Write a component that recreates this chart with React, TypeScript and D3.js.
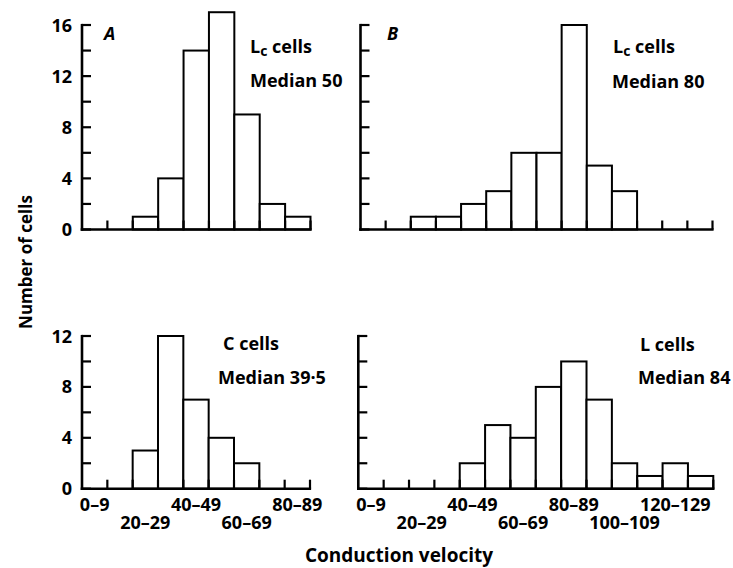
import React from "react";
import * as d3 from "d3";

// Counts per 10 m/s bin (bin i = i*10 .. i*10+9)
const countsA = [0, 0, 1, 4, 14, 17, 9, 2, 1];
const countsB = [0, 0, 1, 1, 2, 3, 6, 6, 16, 5, 3, 0, 0, 0];
const countsC = [0, 0, 3, 12, 7, 4, 2, 0, 0];
const countsD = [0, 0, 0, 0, 2, 5, 4, 8, 10, 7, 2, 1, 2, 1];

const yTicksTop = [0, 4, 8, 12, 16];
const yTicksBottom = [0, 4, 8, 12];
const xLabelsC = ["0–9", "20–29", "40–49", "60–69", "80–89"];
const xLabelBinsC = [0, 2, 4, 6, 8];
const xLabelsD = ["0–9", "20–29", "40–49", "60–69", "80–89", "100–109", "120–129"];
const xLabelBinsD = [0, 2, 4, 6, 8, 10, 12];

const FONT = "'Open Sans', Lato, sans-serif";

type PanelProps = {
  counts: number[];
  xRange: [number, number];
  yRange: [number, number];
  yMax: number;
  yLabels?: number[];
  xLabels?: string[];
  xLabelBins?: number[];
};

function Panel({ counts, xRange, yRange, yMax, yLabels, xLabels, xLabelBins }: PanelProps) {
  const n = counts.length;
  const x = d3.scaleLinear().domain([0, n * 10]).range(xRange);
  const y = d3.scaleLinear().domain([0, yMax]).range(yRange);
  const minorTicks = d3.range(0, yMax + 1, 2);
  const bounds = d3.range(1, n + 1);
  const lw = 2.6;
  return (
    <g>
      {counts.map((c, i) =>
        c > 0 ? (
          <rect
            key={"b" + i}
            x={x(i * 10)}
            y={y(c)}
            width={x((i + 1) * 10) - x(i * 10)}
            height={y(0) - y(c)}
            fill="white"
            stroke="black"
            strokeWidth={2}
          />
        ) : null
      )}
      {bounds.map((b) => (
        <line
          key={"xt" + b}
          x1={x(b * 10)}
          x2={x(b * 10)}
          y1={y(0)}
          y2={y(0) - 9}
          stroke="black"
          strokeWidth={2.2}
        />
      ))}
      <line x1={x(0) - 1.3} x2={x(n * 10) + 1.1} y1={y(0)} y2={y(0)} stroke="black" strokeWidth={lw} />
      <line x1={x(0)} x2={x(0)} y1={y(0) + 1.3} y2={y(yMax) - 1.1} stroke="black" strokeWidth={lw} />
      {minorTicks.map((t) => (
        <line key={"yt" + t} x1={x(0)} x2={x(0) + 9} y1={y(t)} y2={y(t)} stroke="black" strokeWidth={2.2} />
      ))}
      {yLabels &&
        yLabels.map((t) => (
          <text
            key={"yl" + t}
            x={x(0) - 10}
            y={y(t) + 6.5}
            textAnchor="end"
            fontFamily={FONT}
            fontWeight="bold"
            fontSize={18}
          >
            {t}
          </text>
        ))}
      {xLabels &&
        xLabelBins &&
        xLabels.map((l, i) => {
          const b = xLabelBins[i];
          const row = (b / 2) % 2;
          return (
            <text
              key={"xl" + i}
              x={x(b * 10 + 5)}
              y={y(0) + (row === 0 ? 22 : 40)}
              textAnchor="middle"
              fontFamily={FONT}
              fontWeight="bold"
              fontSize={18}
            >
              {l}
            </text>
          );
        })}
    </g>
  );
}

function Label({ x, y, children }: { x: number; y: number; children: React.ReactNode }) {
  return (
    <text x={x} y={y} fontFamily={FONT} fontWeight="bold" fontSize={18}>
      {children}
    </text>
  );
}

export default function App() {
  return (
    <svg
      width={733}
      height={568}
      style={{ position: "absolute", left: 0, top: 0, background: "white" }}
    >
      <rect x={0} y={0} width={733} height={568} fill="white" />
      <Panel counts={countsA} xRange={[82, 310.5]} yRange={[229.5, 25]} yMax={16} yLabels={yTicksTop} />
      <Panel counts={countsB} xRange={[360.5, 712.5]} yRange={[229.5, 25]} yMax={16} />
      <Panel
        counts={countsC}
        xRange={[82, 310]}
        yRange={[488.7, 336]}
        yMax={12}
        yLabels={yTicksBottom}
        xLabels={xLabelsC}
        xLabelBins={xLabelBinsC}
      />
      <Panel
        counts={countsD}
        xRange={[358.3, 713.3]}
        yRange={[488.7, 336]}
        yMax={12}
        xLabels={xLabelsD}
        xLabelBins={xLabelBinsD}
      />

      <text x={104} y={40} fontFamily={FONT} fontWeight="bold" fontStyle="italic" fontSize={18}>A</text>
      <text x={387} y={40} fontFamily={FONT} fontWeight="bold" fontStyle="italic" fontSize={18}>B</text>

      <Label x={250} y={53}>
        <tspan>L</tspan>
        <tspan fontSize={14} dy={3}>c</tspan>
        <tspan dy={-3}>{"  cells"}</tspan>
      </Label>
      <Label x={250} y={87}>Median 50</Label>
      <Label x={613} y={53}>
        <tspan>L</tspan>
        <tspan fontSize={14} dy={3}>c</tspan>
        <tspan dy={-3}>{"  cells"}</tspan>
      </Label>
      <Label x={612} y={87.5}>Median 80</Label>
      <Label x={223} y={350}>C cells</Label>
      <Label x={218} y={383.5}>Median 39·5</Label>
      <Label x={640} y={350.5}>L cells</Label>
      <Label x={638} y={384}>Median 84</Label>

      <text
        transform="translate(32,262) rotate(-90)"
        textAnchor="middle"
        fontFamily={FONT}
        fontWeight="bold"
        fontSize={17}
      >
        Number of cells
      </text>
      <text x={399} y={562} textAnchor="middle" fontFamily={FONT} fontWeight="bold" fontSize={19}>
        Conduction velocity
      </text>
    </svg>
  );
}
